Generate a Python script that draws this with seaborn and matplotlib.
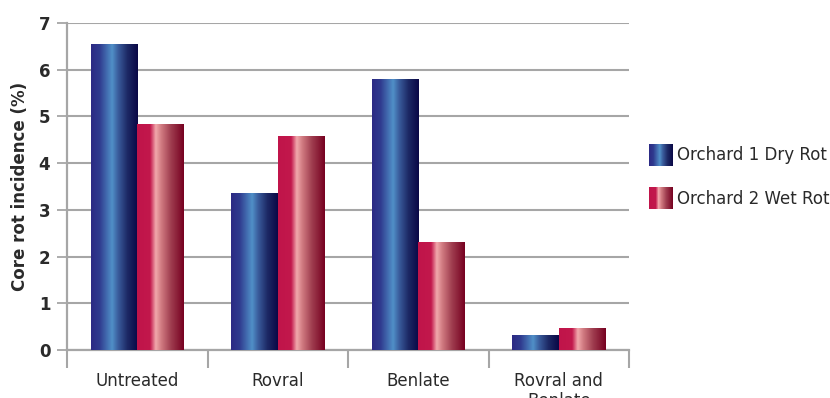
import numpy as np
import pandas as pd
import matplotlib
matplotlib.use("Agg")
import matplotlib.pyplot as plt
import seaborn as sns
from matplotlib.colors import LinearSegmentedColormap, to_rgb
from matplotlib.legend_handler import HandlerBase
from matplotlib.image import BboxImage
from matplotlib.transforms import Bbox, TransformedBbox
from matplotlib.patches import Patch

categories = ["Untreated", "Rovral", "Benlate", "Rovral and\nBenlate"]
series = ["Orchard 1 Dry Rot", "Orchard 2 Wet Rot"]
dry_rot = [6.55, 3.34, 5.80, 0.30]
wet_rot = [4.82, 4.58, 2.31, 0.45]
y_ticks = [0, 1, 2, 3, 4, 5, 6, 7]
y_label = "Core rot incidence (%)"

sns.set_theme(style="white")
plt.rcParams['font.family'] = ['DejaVu Sans']

blue_cmap = LinearSegmentedColormap.from_list("blue_cyl", [
    (0.0, "#2c2a84"), (0.18, "#2f3a8e"), (0.45, "#5090c8"),
    (0.58, "#3a5c9c"), (0.78, "#1c2864"), (1.0, "#0a0846")])
red_cmap = LinearSegmentedColormap.from_list("red_cyl", [
    (0.0, "#c0144a"), (0.28, "#c2184c"), (0.40, "#f2a8ac"),
    (0.52, "#d07a80"), (0.72, "#a03e50"), (1.0, "#760020")])
grad = np.linspace(0, 1, 256).reshape(1, -1)

df = pd.DataFrame({
    "category": categories * 2,
    "series": [series[0]] * 4 + [series[1]] * 4,
    "value": dry_rot + wet_rot,
})

fig = plt.figure(figsize=(8.3, 3.98), dpi=100)
ax = fig.add_axes([67 / 830, 1 - 350 / 398, (629 - 67) / 830, (350 - 23) / 398])

base_colors = ["#2c2a84", "#c0144a"]
sns.barplot(data=df, x="category", y="value", hue="series", palette=base_colors,
            width=0.66, ax=ax, legend=False, saturation=1, errorbar=None)

ax.set_ylim(0, 7)
ax.set_xlim(-0.5, 3.5)
xlim, ylim = ax.get_xlim(), ax.get_ylim()

for p in ax.patches:
    fc = p.get_facecolor()[:3]
    cmap = blue_cmap if np.allclose(fc, to_rgb(base_colors[0]), atol=0.02) else red_cmap
    x0, w, h = p.get_x(), p.get_width(), p.get_height()
    ax.imshow(grad, extent=[x0, x0 + w, 0, h], aspect="auto", cmap=cmap,
              interpolation="bilinear", zorder=3)
    p.set_visible(False)
ax.set_xlim(xlim)
ax.set_ylim(ylim)

txt = "#2a2a2a"
grid_c = "#a6a6a6"
ax.set_yticks(y_ticks)
ax.set_yticklabels([str(t) for t in y_ticks], fontweight="bold", fontsize=12, color=txt)
ax.yaxis.grid(True, color=grid_c, linewidth=1.5)
ax.set_axisbelow(True)
ax.tick_params(axis="y", length=7, width=1.3, color=grid_c, pad=5, left=True)

ax.set_xticks(range(len(categories)))
ax.set_xticklabels(categories, fontsize=12, color=txt, linespacing=1.15)
ax.set_xticks([i - 0.5 for i in range(len(categories) + 1)], minor=True)
ax.tick_params(axis="x", which="major", length=0, pad=16)
ax.tick_params(axis="x", which="minor", length=13, width=1.5, color=grid_c, bottom=True)

ax.set_xlabel("")
ax.set_ylabel(y_label, fontsize=12, fontweight="bold", color=txt, labelpad=7)

for s in ["top", "right"]:
    ax.spines[s].set_visible(False)
for s in ["left", "bottom"]:
    ax.spines[s].set_color(grid_c)
    ax.spines[s].set_linewidth(1.6)


class GradHandler(HandlerBase):
    def __init__(self, cmap):
        super().__init__()
        self.cmap = cmap

    def create_artists(self, legend, orig_handle, xdescent, ydescent, width, height, fontsize, trans):
        bb = Bbox.from_bounds(-xdescent, -ydescent, width, height)
        img = BboxImage(TransformedBbox(bb, trans), cmap=self.cmap, interpolation="bilinear")
        img.set_data(grad)
        return [img]


h1 = Patch(facecolor=base_colors[0], label=series[0])
h2 = Patch(facecolor=base_colors[1], label=series[1])
fig.legend(handles=[h1, h2], labels=series,
           handler_map={h1: GradHandler(blue_cmap), h2: GradHandler(red_cmap)},
           loc="upper left", bbox_to_anchor=(647 / 830, 1 - 142 / 398),
           frameon=False, fontsize=12, handlelength=1.4, handleheight=1.65,
           handletextpad=0.3, labelspacing=1.3, borderaxespad=0, borderpad=0.1,
           labelcolor=txt)

fig.savefig("out.png", dpi=100)
